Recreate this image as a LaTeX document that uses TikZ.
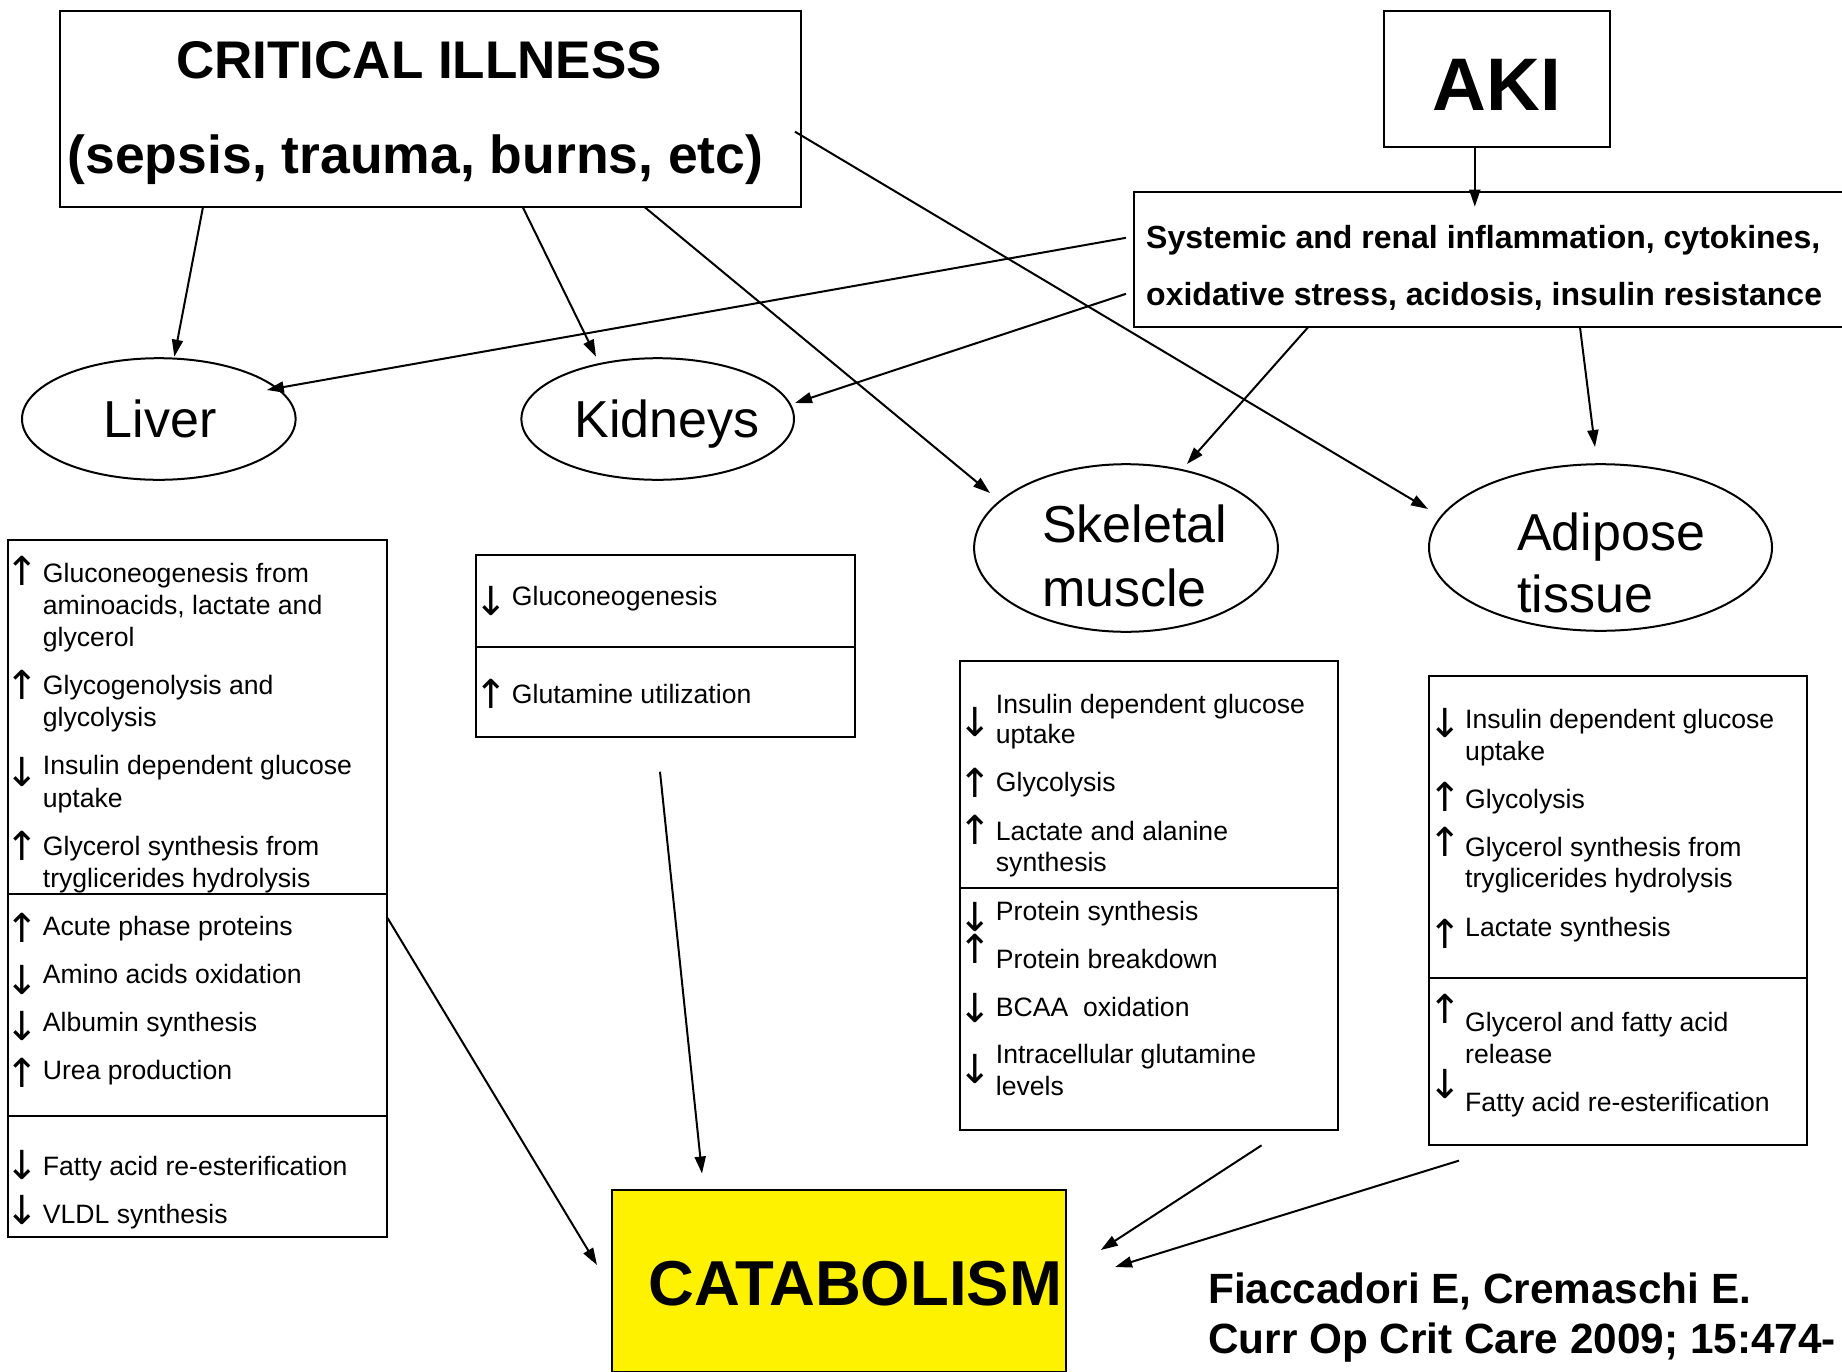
\documentclass[tikz,border=0pt]{standalone}
\usepackage{fontspec}
\setmainfont{Liberation Sans}
\newfontfamily\arrowfont{DejaVu Sans}
\usetikzlibrary{arrows.meta,calc,shapes.geometric}
\newcommand\arrU{↑}
\newcommand\arrD{↓}
\begin{document}
\begin{tikzpicture}[x=1pt,y=-1pt,
  box/.style={draw,line width=2pt,rectangle,inner sep=0pt,outer sep=0pt},
  organ/.style={draw,line width=2pt,ellipse,inner sep=0pt,outer sep=0pt},
  lbl/.style={inner sep=0pt,anchor=base west,font=\fontsize{26.6}{32}\selectfont},
  sym/.style={inner sep=0pt,font=\arrowfont\fontsize{40}{44}\selectfont},
  organtxt/.style={inner sep=0pt,font=\fontsize{52}{60}\selectfont},
  conn/.style={line width=2pt,-{Triangle[length=17pt,width=11pt]}},
  divider/.style={line width=2pt}]
\useasboundingbox (0,0) rectangle (1842,1371);
\fill[white] (0,0) rectangle (1842,1371);

% ---------- top boxes ----------
\node[box,minimum width=740.6pt,minimum height=196pt] (crit) at (430.7,109) {};
\node[inner sep=0pt,anchor=base,font=\fontsize{53}{60}\selectfont\bfseries] (critA) at (419,78) {CRITICAL ILLNESS};
\node[inner sep=0pt,anchor=base,font=\fontsize{53.5}{60}\selectfont\bfseries] (critB) at (415.5,173) {(sepsis, trauma, burns, etc)};

\node[box,minimum width=226.5pt,minimum height=136pt] (aki) at (1496.8,78.7) {};
\node[inner sep=0pt,anchor=base,font=\fontsize{74.5}{80}\selectfont\bfseries] (akiT) at (1497,110.7) {AKI};

\node[box,minimum width=728pt,minimum height=135pt] (sys) at (1498,259.8) {};
\node[inner sep=0pt,anchor=base west,font=\fontsize{32}{38}\selectfont\bfseries] (sysA) at (1146,248) {Systemic and renal inflammation, cytokines,};
\node[inner sep=0pt,anchor=base west,font=\fontsize{32}{38}\selectfont\bfseries] (sysB) at (1146,305) {oxidative stress, acidosis, insulin resistance};

% ---------- organs ----------
\node[organ,minimum width=273.6pt,minimum height=121.6pt] (liver) at (158.8,419) {};
\node[organtxt,anchor=base] (liverT) at (160,437) {Liver};
\node[organ,minimum width=272.6pt,minimum height=121.6pt] (kid) at (657.7,419) {};
\node[organtxt,anchor=base] (kidT) at (667,437) {Kidneys};
\node[organ,minimum width=303.8pt,minimum height=167.6pt] (skm) at (1126,548) {};
\node[organtxt,anchor=base west] (skmA) at (1042,542) {Skeletal};
\node[organtxt,anchor=base west] (skmB) at (1042,606) {muscle};
\node[organ,minimum width=343pt,minimum height=166.6pt] (adi) at (1600.5,547.5) {};
\node[organtxt,anchor=base west] (adiA) at (1517,550) {Adipose};
\node[organtxt,anchor=base west] (adiB) at (1517,612) {tissue};

% ---------- liver box ----------
\node[box,minimum width=378.7pt,minimum height=697pt] (lbox) at (197.2,888.5) {};
\draw[divider] ($(lbox.north west)+(0,354)$) -- ($(lbox.north east)+(0,354)$);
\draw[divider] ($(lbox.north west)+(0,576)$) -- ($(lbox.north east)+(0,576)$);
\node[lbl] (l1) at (42.7,582) {Gluconeogenesis from};
\node[lbl] (l2) at (42.7,614.5) {aminoacids, lactate and};
\node[lbl] (l3) at (42.7,646) {glycerol};
\node[lbl] (l4) at (42.7,694.5) {Glycogenolysis and};
\node[lbl] (l5) at (42.7,726) {glycolysis};
\node[lbl] (l6) at (42.7,774.5) {Insulin dependent glucose};
\node[lbl] (l7) at (42.7,807) {uptake};
\node[lbl] (l8) at (42.7,855) {Glycerol synthesis from};
\node[lbl] (l9) at (42.7,887) {tryglicerides hydrolysis};
\node[lbl] (l10) at (42.7,935) {Acute phase proteins};
\node[lbl] (l11) at (42.7,983.5) {Amino acids oxidation};
\node[lbl] (l12) at (42.7,1031) {Albumin synthesis};
\node[lbl] (l13) at (42.7,1079) {Urea production};
\node[lbl] (l14) at (42.7,1175) {Fatty acid re-esterification};
\node[lbl] (l15) at (42.7,1223) {VLDL synthesis};
\node[sym] (la1) at (22.7,571) {\arrU};
\node[sym] (la2) at (22.7,684.5) {\arrU};
\node[sym] (la3) at (22.7,772) {\arrD};
\node[sym] (la4) at (22.7,846) {\arrU};
\node[sym] (la5) at (22.7,928) {\arrU};
\node[sym] (la6) at (22.7,979.5) {\arrD};
\node[sym] (la7) at (22.7,1025.5) {\arrD};
\node[sym] (la8) at (22.7,1073) {\arrU};
\node[sym] (la9) at (22.7,1164.5) {\arrD};
\node[sym] (la10) at (22.7,1209.5) {\arrD};

% ---------- kidneys box ----------
\node[box,minimum width=379pt,minimum height=181.7pt] (kbox) at (665.5,645.9) {};
\draw[divider] ($(kbox.north west)+(0,91.7)$) -- ($(kbox.north east)+(0,91.7)$);
\node[lbl] (k1) at (511.7,605.7) {Gluconeogenesis};
\node[lbl] (k2) at (511.7,703) {Glutamine utilization};
\node[sym] (ka1) at (491,600.5) {\arrD};
\node[sym] (ka2) at (491,694) {\arrU};

% ---------- skeletal muscle box ----------
\node[box,minimum width=378pt,minimum height=469pt] (sbox) at (1149,895.5) {};
\draw[divider] ($(sbox.north west)+(0,227)$) -- ($(sbox.north east)+(0,227)$);
\node[lbl] (s1) at (995.7,713.3) {Insulin dependent glucose};
\node[lbl] (s2) at (995.7,743.3) {uptake};
\node[lbl] (s3) at (995.7,791.7) {Glycolysis};
\node[lbl] (s4) at (995.7,840) {Lactate and alanine};
\node[lbl] (s5) at (995.7,871.7) {synthesis};
\node[lbl] (s6) at (995.7,920) {Protein synthesis};
\node[lbl] (s7) at (995.7,968.3) {Protein breakdown};
\node[lbl] (s8) at (995.7,1016) {BCAA\ \ oxidation};
\node[lbl] (s9) at (995.7,1063.3) {Intracellular glutamine};
\node[lbl] (s10) at (995.7,1095) {levels};
\node[sym] (sa1) at (975,722) {\arrD};
\node[sym] (sa2) at (975,783) {\arrU};
\node[sym] (sa3) at (975,830) {\arrU};
\node[sym] (sa4) at (975,917) {\arrD};
\node[sym] (sa5) at (975,949) {\arrU};
\node[sym] (sa6) at (975,1008) {\arrD};
\node[sym] (sa7) at (975,1069) {\arrD};

% ---------- adipose box ----------
\node[box,minimum width=378.5pt,minimum height=469pt] (abox) at (1618.2,910.5) {};
\draw[divider] ($(abox.north west)+(0,302)$) -- ($(abox.north east)+(0,302)$);
\node[lbl] (a1) at (1465,728.3) {Insulin dependent glucose};
\node[lbl] (a2) at (1465,760) {uptake};
\node[lbl] (a3) at (1465,808.3) {Glycolysis};
\node[lbl] (a4) at (1465,856) {Glycerol synthesis from};
\node[lbl] (a5) at (1465,887.7) {tryglicerides hydrolysis};
\node[lbl] (a6) at (1465,936) {Lactate synthesis};
\node[lbl] (a7) at (1465,1031.7) {Glycerol and fatty acid};
\node[lbl] (a8) at (1465,1063.3) {release};
\node[lbl] (a9) at (1465,1111.7) {Fatty acid re-esterification};
\node[sym] (aa1) at (1445,723) {\arrD};
\node[sym] (aa2) at (1445,797) {\arrU};
\node[sym] (aa3) at (1445,842) {\arrU};
\node[sym] (aa4) at (1445,933.5) {\arrU};
\node[sym] (aa5) at (1445,1009) {\arrU};
\node[sym] (aa6) at (1445,1084) {\arrD};

% ---------- catabolism ----------
\node[box,fill=yellow,minimum width=454pt,minimum height=182pt] (catab) at (839,1281) {};
\node[inner sep=0pt,anchor=base west,font=\fontsize{63.5}{70}\selectfont\bfseries] (catT) at (648,1305) {CATABOLISM};

\node[inner sep=0pt,anchor=base west,font=\fontsize{42.3}{48}\selectfont\bfseries] (citA) at (1208,1303) {Fiaccadori E, Cremaschi E.};
\node[inner sep=0pt,anchor=base west,font=\fontsize{42.3}{48}\selectfont\bfseries] (citB) at (1208,1353) {Curr Op Crit Care 2009; 15:474-};

% ---------- connectors ----------
\draw[conn] ($(crit.south)+(-227.7,0)$) -- ($(liver)+(15.5,-62.3)$);
\draw[conn] ($(crit.south)+(92,0)$) -- ($(kid)+(-61.7,-62.3)$);
\draw[conn] ($(crit.south)+(213.8,0)$) -- ($(skm)+(-136,-55)$);
\draw[conn] ($(crit.east)+(-6,22.7)$) -- ($(adi)+(-172.5,-38.5)$);
\draw[conn] ($(sys.west)+(-8,-22)$) -- ($(liver)+(108,-29)$);
\draw[conn] ($(sys.west)+(-8,34)$) -- ($(kid)+(137.3,-16)$);
\draw[conn] ($(sys.south)+(-190,0)$) -- ($(skm)+(61,-84)$);
\draw[conn] ($(sys.south)+(82,0)$) -- ($(adi)+(-5.5,-100.5)$);
\draw[conn] ($(aki.south)+(-22,0)$) -- ($(sys.north)+(-23.2,14.4)$);
\draw[conn] ($(lbox.east)+(1,29.5)$) -- ($(catab)+(-242,-16)$);
\draw[conn] ($(kbox.south)+(-5.5,35)$) -- ($(catab.north)+(-137,-16.5)$);
\draw[conn] ($(sbox.south)+(112.6,15.3)$) -- ($(catab)+(261.8,-31)$);
\draw[conn] ($(abox.south)+(-159.2,15.6)$) -- ($(catab)+(276,-14)$);
\end{tikzpicture}
\end{document}
